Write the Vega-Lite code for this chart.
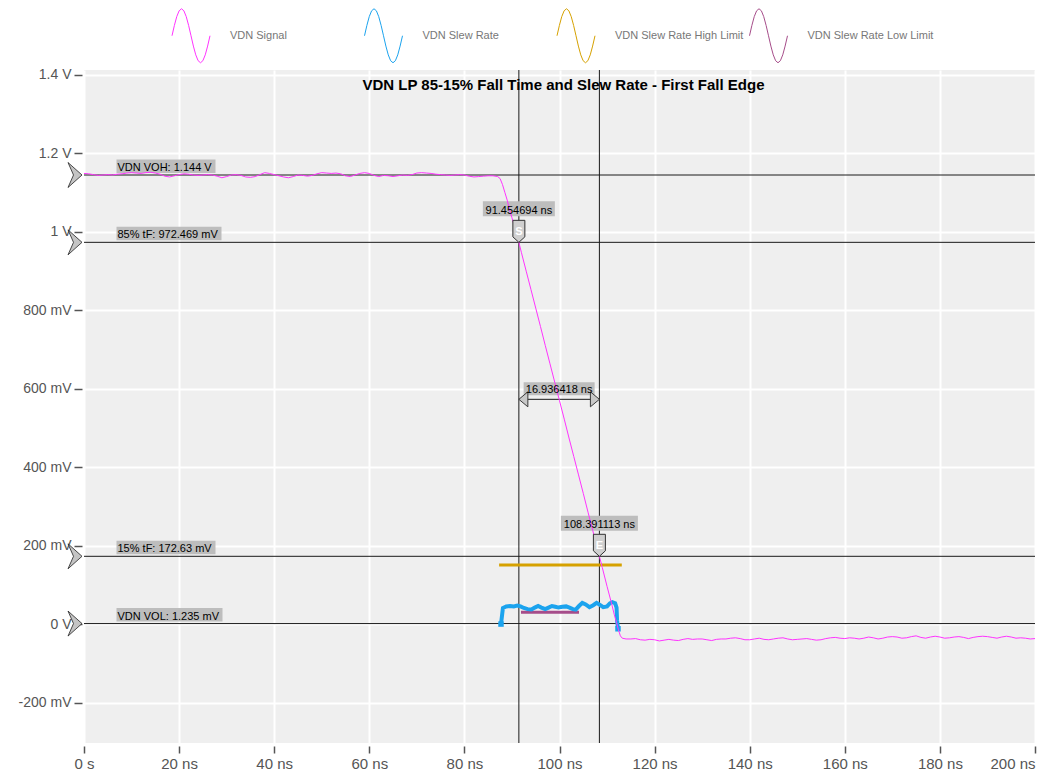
{
  "$schema": "https://vega.github.io/schema/vega-lite/v6.json",
  "width": 951,
  "height": 673,
  "autosize": {"type": "none"},
  "padding": {"left": 84, "top": 70, "right": 2, "bottom": 31},
  "background": "white",
  "config": {
    "font": "Liberation Sans",
    "view": {"fill": "#efefef", "stroke": null}
  },
  "title": {
    "text": "VDN LP 85-15% Fall Time and Slew Rate - First Fall Edge",
    "fontSize": 15,
    "fontWeight": "bold",
    "color": "#000000",
    "font": "Liberation Sans",
    "anchor": "middle",
    "baseline": "middle",
    "offset": -85,
    "dx": 4
  },
  "datasets": {
    "traces": [
      {"series": "VDN Signal", "time_ns": 0, "volts": 1.148},
      {"series": "VDN Signal", "time_ns": 1, "volts": 1.147},
      {"series": "VDN Signal", "time_ns": 2, "volts": 1.145},
      {"series": "VDN Signal", "time_ns": 3, "volts": 1.143},
      {"series": "VDN Signal", "time_ns": 4, "volts": 1.144},
      {"series": "VDN Signal", "time_ns": 5, "volts": 1.145},
      {"series": "VDN Signal", "time_ns": 6, "volts": 1.144},
      {"series": "VDN Signal", "time_ns": 7, "volts": 1.146},
      {"series": "VDN Signal", "time_ns": 8, "volts": 1.147},
      {"series": "VDN Signal", "time_ns": 9, "volts": 1.149},
      {"series": "VDN Signal", "time_ns": 10, "volts": 1.15},
      {"series": "VDN Signal", "time_ns": 11, "volts": 1.149},
      {"series": "VDN Signal", "time_ns": 12, "volts": 1.148},
      {"series": "VDN Signal", "time_ns": 13, "volts": 1.15},
      {"series": "VDN Signal", "time_ns": 14, "volts": 1.151},
      {"series": "VDN Signal", "time_ns": 15, "volts": 1.149},
      {"series": "VDN Signal", "time_ns": 16, "volts": 1.146},
      {"series": "VDN Signal", "time_ns": 17, "volts": 1.141},
      {"series": "VDN Signal", "time_ns": 18, "volts": 1.139},
      {"series": "VDN Signal", "time_ns": 19, "volts": 1.142},
      {"series": "VDN Signal", "time_ns": 20, "volts": 1.145},
      {"series": "VDN Signal", "time_ns": 21, "volts": 1.147},
      {"series": "VDN Signal", "time_ns": 22, "volts": 1.146},
      {"series": "VDN Signal", "time_ns": 23, "volts": 1.144},
      {"series": "VDN Signal", "time_ns": 24, "volts": 1.143},
      {"series": "VDN Signal", "time_ns": 25, "volts": 1.144},
      {"series": "VDN Signal", "time_ns": 26, "volts": 1.145},
      {"series": "VDN Signal", "time_ns": 27, "volts": 1.144},
      {"series": "VDN Signal", "time_ns": 28, "volts": 1.141},
      {"series": "VDN Signal", "time_ns": 29, "volts": 1.137},
      {"series": "VDN Signal", "time_ns": 30, "volts": 1.14},
      {"series": "VDN Signal", "time_ns": 31, "volts": 1.144},
      {"series": "VDN Signal", "time_ns": 32, "volts": 1.145},
      {"series": "VDN Signal", "time_ns": 33, "volts": 1.143},
      {"series": "VDN Signal", "time_ns": 34, "volts": 1.139},
      {"series": "VDN Signal", "time_ns": 35, "volts": 1.138},
      {"series": "VDN Signal", "time_ns": 36, "volts": 1.14},
      {"series": "VDN Signal", "time_ns": 37, "volts": 1.145},
      {"series": "VDN Signal", "time_ns": 38, "volts": 1.15},
      {"series": "VDN Signal", "time_ns": 39, "volts": 1.148},
      {"series": "VDN Signal", "time_ns": 40, "volts": 1.145},
      {"series": "VDN Signal", "time_ns": 41, "volts": 1.142},
      {"series": "VDN Signal", "time_ns": 42, "volts": 1.139},
      {"series": "VDN Signal", "time_ns": 43, "volts": 1.137},
      {"series": "VDN Signal", "time_ns": 44, "volts": 1.14},
      {"series": "VDN Signal", "time_ns": 45, "volts": 1.144},
      {"series": "VDN Signal", "time_ns": 46, "volts": 1.143},
      {"series": "VDN Signal", "time_ns": 47, "volts": 1.141},
      {"series": "VDN Signal", "time_ns": 48, "volts": 1.143},
      {"series": "VDN Signal", "time_ns": 49, "volts": 1.147},
      {"series": "VDN Signal", "time_ns": 50, "volts": 1.15},
      {"series": "VDN Signal", "time_ns": 51, "volts": 1.149},
      {"series": "VDN Signal", "time_ns": 52, "volts": 1.148},
      {"series": "VDN Signal", "time_ns": 53, "volts": 1.149},
      {"series": "VDN Signal", "time_ns": 54, "volts": 1.147},
      {"series": "VDN Signal", "time_ns": 55, "volts": 1.142},
      {"series": "VDN Signal", "time_ns": 56, "volts": 1.14},
      {"series": "VDN Signal", "time_ns": 57, "volts": 1.144},
      {"series": "VDN Signal", "time_ns": 58, "volts": 1.148},
      {"series": "VDN Signal", "time_ns": 59, "volts": 1.15},
      {"series": "VDN Signal", "time_ns": 60, "volts": 1.148},
      {"series": "VDN Signal", "time_ns": 61, "volts": 1.143},
      {"series": "VDN Signal", "time_ns": 62, "volts": 1.14},
      {"series": "VDN Signal", "time_ns": 63, "volts": 1.143},
      {"series": "VDN Signal", "time_ns": 64, "volts": 1.142},
      {"series": "VDN Signal", "time_ns": 65, "volts": 1.14},
      {"series": "VDN Signal", "time_ns": 66, "volts": 1.142},
      {"series": "VDN Signal", "time_ns": 67, "volts": 1.144},
      {"series": "VDN Signal", "time_ns": 68, "volts": 1.143},
      {"series": "VDN Signal", "time_ns": 69, "volts": 1.145},
      {"series": "VDN Signal", "time_ns": 70, "volts": 1.149},
      {"series": "VDN Signal", "time_ns": 71, "volts": 1.15},
      {"series": "VDN Signal", "time_ns": 72, "volts": 1.149},
      {"series": "VDN Signal", "time_ns": 73, "volts": 1.148},
      {"series": "VDN Signal", "time_ns": 74, "volts": 1.146},
      {"series": "VDN Signal", "time_ns": 75, "volts": 1.145},
      {"series": "VDN Signal", "time_ns": 76, "volts": 1.144},
      {"series": "VDN Signal", "time_ns": 77, "volts": 1.143},
      {"series": "VDN Signal", "time_ns": 78, "volts": 1.144},
      {"series": "VDN Signal", "time_ns": 79, "volts": 1.145},
      {"series": "VDN Signal", "time_ns": 80, "volts": 1.144},
      {"series": "VDN Signal", "time_ns": 81, "volts": 1.141},
      {"series": "VDN Signal", "time_ns": 82, "volts": 1.139},
      {"series": "VDN Signal", "time_ns": 83, "volts": 1.14},
      {"series": "VDN Signal", "time_ns": 84, "volts": 1.141},
      {"series": "VDN Signal", "time_ns": 85, "volts": 1.142},
      {"series": "VDN Signal", "time_ns": 86, "volts": 1.142},
      {"series": "VDN Signal", "time_ns": 87, "volts": 1.14},
      {"series": "VDN Signal", "time_ns": 87.5, "volts": 1.135},
      {"series": "VDN Signal", "time_ns": 88, "volts": 1.12},
      {"series": "VDN Signal", "time_ns": 88.5, "volts": 1.1},
      {"series": "VDN Signal", "time_ns": 89, "volts": 1.08},
      {"series": "VDN Signal", "time_ns": 89.5, "volts": 1.055},
      {"series": "VDN Signal", "time_ns": 90, "volts": 1.035},
      {"series": "VDN Signal", "time_ns": 90.5, "volts": 1.014},
      {"series": "VDN Signal", "time_ns": 91, "volts": 0.994},
      {"series": "VDN Signal", "time_ns": 91.454694, "volts": 0.972469},
      {"series": "VDN Signal", "time_ns": 92, "volts": 0.946},
      {"series": "VDN Signal", "time_ns": 93, "volts": 0.899},
      {"series": "VDN Signal", "time_ns": 94, "volts": 0.852},
      {"series": "VDN Signal", "time_ns": 95, "volts": 0.805},
      {"series": "VDN Signal", "time_ns": 96, "volts": 0.758},
      {"series": "VDN Signal", "time_ns": 97, "volts": 0.71},
      {"series": "VDN Signal", "time_ns": 98, "volts": 0.663},
      {"series": "VDN Signal", "time_ns": 99, "volts": 0.616},
      {"series": "VDN Signal", "time_ns": 100, "volts": 0.569},
      {"series": "VDN Signal", "time_ns": 101, "volts": 0.522},
      {"series": "VDN Signal", "time_ns": 102, "volts": 0.474},
      {"series": "VDN Signal", "time_ns": 103, "volts": 0.427},
      {"series": "VDN Signal", "time_ns": 104, "volts": 0.38},
      {"series": "VDN Signal", "time_ns": 105, "volts": 0.333},
      {"series": "VDN Signal", "time_ns": 106, "volts": 0.285},
      {"series": "VDN Signal", "time_ns": 107, "volts": 0.238},
      {"series": "VDN Signal", "time_ns": 108, "volts": 0.191},
      {"series": "VDN Signal", "time_ns": 108.391113, "volts": 0.17263},
      {"series": "VDN Signal", "time_ns": 109, "volts": 0.144},
      {"series": "VDN Signal", "time_ns": 110, "volts": 0.096},
      {"series": "VDN Signal", "time_ns": 111, "volts": 0.05},
      {"series": "VDN Signal", "time_ns": 111.5, "volts": 0.025},
      {"series": "VDN Signal", "time_ns": 112, "volts": 0.004},
      {"series": "VDN Signal", "time_ns": 112.4, "volts": -0.015},
      {"series": "VDN Signal", "time_ns": 112.8, "volts": -0.03},
      {"series": "VDN Signal", "time_ns": 113.2, "volts": -0.036},
      {"series": "VDN Signal", "time_ns": 114, "volts": -0.038},
      {"series": "VDN Signal", "time_ns": 115, "volts": -0.038},
      {"series": "VDN Signal", "time_ns": 116, "volts": -0.037},
      {"series": "VDN Signal", "time_ns": 117, "volts": -0.04},
      {"series": "VDN Signal", "time_ns": 118, "volts": -0.041},
      {"series": "VDN Signal", "time_ns": 119, "volts": -0.039},
      {"series": "VDN Signal", "time_ns": 120, "volts": -0.04},
      {"series": "VDN Signal", "time_ns": 121, "volts": -0.043},
      {"series": "VDN Signal", "time_ns": 122, "volts": -0.041},
      {"series": "VDN Signal", "time_ns": 123, "volts": -0.039},
      {"series": "VDN Signal", "time_ns": 124, "volts": -0.041},
      {"series": "VDN Signal", "time_ns": 125, "volts": -0.042},
      {"series": "VDN Signal", "time_ns": 126, "volts": -0.039},
      {"series": "VDN Signal", "time_ns": 127, "volts": -0.037},
      {"series": "VDN Signal", "time_ns": 128, "volts": -0.039},
      {"series": "VDN Signal", "time_ns": 129, "volts": -0.038},
      {"series": "VDN Signal", "time_ns": 130, "volts": -0.038},
      {"series": "VDN Signal", "time_ns": 131, "volts": -0.04},
      {"series": "VDN Signal", "time_ns": 132, "volts": -0.042},
      {"series": "VDN Signal", "time_ns": 133, "volts": -0.039},
      {"series": "VDN Signal", "time_ns": 134, "volts": -0.038},
      {"series": "VDN Signal", "time_ns": 135, "volts": -0.038},
      {"series": "VDN Signal", "time_ns": 136, "volts": -0.036},
      {"series": "VDN Signal", "time_ns": 137, "volts": -0.035},
      {"series": "VDN Signal", "time_ns": 138, "volts": -0.037},
      {"series": "VDN Signal", "time_ns": 139, "volts": -0.04},
      {"series": "VDN Signal", "time_ns": 140, "volts": -0.04},
      {"series": "VDN Signal", "time_ns": 141, "volts": -0.038},
      {"series": "VDN Signal", "time_ns": 142, "volts": -0.036},
      {"series": "VDN Signal", "time_ns": 143, "volts": -0.039},
      {"series": "VDN Signal", "time_ns": 144, "volts": -0.04},
      {"series": "VDN Signal", "time_ns": 145, "volts": -0.038},
      {"series": "VDN Signal", "time_ns": 146, "volts": -0.036},
      {"series": "VDN Signal", "time_ns": 147, "volts": -0.035},
      {"series": "VDN Signal", "time_ns": 148, "volts": -0.038},
      {"series": "VDN Signal", "time_ns": 149, "volts": -0.04},
      {"series": "VDN Signal", "time_ns": 150, "volts": -0.039},
      {"series": "VDN Signal", "time_ns": 151, "volts": -0.038},
      {"series": "VDN Signal", "time_ns": 152, "volts": -0.037},
      {"series": "VDN Signal", "time_ns": 153, "volts": -0.039},
      {"series": "VDN Signal", "time_ns": 154, "volts": -0.041},
      {"series": "VDN Signal", "time_ns": 155, "volts": -0.04},
      {"series": "VDN Signal", "time_ns": 156, "volts": -0.037},
      {"series": "VDN Signal", "time_ns": 157, "volts": -0.035},
      {"series": "VDN Signal", "time_ns": 158, "volts": -0.034},
      {"series": "VDN Signal", "time_ns": 159, "volts": -0.036},
      {"series": "VDN Signal", "time_ns": 160, "volts": -0.037},
      {"series": "VDN Signal", "time_ns": 161, "volts": -0.035},
      {"series": "VDN Signal", "time_ns": 162, "volts": -0.036},
      {"series": "VDN Signal", "time_ns": 163, "volts": -0.038},
      {"series": "VDN Signal", "time_ns": 164, "volts": -0.036},
      {"series": "VDN Signal", "time_ns": 165, "volts": -0.033},
      {"series": "VDN Signal", "time_ns": 166, "volts": -0.035},
      {"series": "VDN Signal", "time_ns": 167, "volts": -0.038},
      {"series": "VDN Signal", "time_ns": 168, "volts": -0.036},
      {"series": "VDN Signal", "time_ns": 169, "volts": -0.033},
      {"series": "VDN Signal", "time_ns": 170, "volts": -0.032},
      {"series": "VDN Signal", "time_ns": 171, "volts": -0.033},
      {"series": "VDN Signal", "time_ns": 172, "volts": -0.036},
      {"series": "VDN Signal", "time_ns": 173, "volts": -0.035},
      {"series": "VDN Signal", "time_ns": 174, "volts": -0.032},
      {"series": "VDN Signal", "time_ns": 175, "volts": -0.03},
      {"series": "VDN Signal", "time_ns": 176, "volts": -0.034},
      {"series": "VDN Signal", "time_ns": 177, "volts": -0.036},
      {"series": "VDN Signal", "time_ns": 178, "volts": -0.033},
      {"series": "VDN Signal", "time_ns": 179, "volts": -0.031},
      {"series": "VDN Signal", "time_ns": 180, "volts": -0.033},
      {"series": "VDN Signal", "time_ns": 181, "volts": -0.036},
      {"series": "VDN Signal", "time_ns": 182, "volts": -0.035},
      {"series": "VDN Signal", "time_ns": 183, "volts": -0.033},
      {"series": "VDN Signal", "time_ns": 184, "volts": -0.032},
      {"series": "VDN Signal", "time_ns": 185, "volts": -0.034},
      {"series": "VDN Signal", "time_ns": 186, "volts": -0.037},
      {"series": "VDN Signal", "time_ns": 187, "volts": -0.034},
      {"series": "VDN Signal", "time_ns": 188, "volts": -0.032},
      {"series": "VDN Signal", "time_ns": 189, "volts": -0.031},
      {"series": "VDN Signal", "time_ns": 190, "volts": -0.032},
      {"series": "VDN Signal", "time_ns": 191, "volts": -0.034},
      {"series": "VDN Signal", "time_ns": 192, "volts": -0.036},
      {"series": "VDN Signal", "time_ns": 193, "volts": -0.033},
      {"series": "VDN Signal", "time_ns": 194, "volts": -0.031},
      {"series": "VDN Signal", "time_ns": 195, "volts": -0.033},
      {"series": "VDN Signal", "time_ns": 196, "volts": -0.036},
      {"series": "VDN Signal", "time_ns": 197, "volts": -0.035},
      {"series": "VDN Signal", "time_ns": 198, "volts": -0.036},
      {"series": "VDN Signal", "time_ns": 199, "volts": -0.038},
      {"series": "VDN Signal", "time_ns": 200, "volts": -0.037},
      {"series": "VDN Slew Rate", "time_ns": 87.7, "volts": 0.0},
      {"series": "VDN Slew Rate", "time_ns": 88.1, "volts": 0.041},
      {"series": "VDN Slew Rate", "time_ns": 88.8, "volts": 0.045},
      {"series": "VDN Slew Rate", "time_ns": 89.6, "volts": 0.046},
      {"series": "VDN Slew Rate", "time_ns": 90.4, "volts": 0.045},
      {"series": "VDN Slew Rate", "time_ns": 91.1, "volts": 0.047},
      {"series": "VDN Slew Rate", "time_ns": 91.8, "volts": 0.045},
      {"series": "VDN Slew Rate", "time_ns": 92.5, "volts": 0.041},
      {"series": "VDN Slew Rate", "time_ns": 93.3, "volts": 0.038},
      {"series": "VDN Slew Rate", "time_ns": 94.1, "volts": 0.037},
      {"series": "VDN Slew Rate", "time_ns": 94.8, "volts": 0.042},
      {"series": "VDN Slew Rate", "time_ns": 95.5, "volts": 0.046},
      {"series": "VDN Slew Rate", "time_ns": 96.2, "volts": 0.042},
      {"series": "VDN Slew Rate", "time_ns": 97.0, "volts": 0.038},
      {"series": "VDN Slew Rate", "time_ns": 97.7, "volts": 0.042},
      {"series": "VDN Slew Rate", "time_ns": 98.4, "volts": 0.046},
      {"series": "VDN Slew Rate", "time_ns": 99.1, "volts": 0.044},
      {"series": "VDN Slew Rate", "time_ns": 99.8, "volts": 0.042},
      {"series": "VDN Slew Rate", "time_ns": 100.6, "volts": 0.044},
      {"series": "VDN Slew Rate", "time_ns": 101.4, "volts": 0.045},
      {"series": "VDN Slew Rate", "time_ns": 102.1, "volts": 0.042},
      {"series": "VDN Slew Rate", "time_ns": 102.8, "volts": 0.038},
      {"series": "VDN Slew Rate", "time_ns": 103.4, "volts": 0.037},
      {"series": "VDN Slew Rate", "time_ns": 104.1, "volts": 0.046},
      {"series": "VDN Slew Rate", "time_ns": 104.8, "volts": 0.054},
      {"series": "VDN Slew Rate", "time_ns": 105.5, "volts": 0.05},
      {"series": "VDN Slew Rate", "time_ns": 106.3, "volts": 0.043},
      {"series": "VDN Slew Rate", "time_ns": 107.1, "volts": 0.048},
      {"series": "VDN Slew Rate", "time_ns": 107.8, "volts": 0.054},
      {"series": "VDN Slew Rate", "time_ns": 108.5, "volts": 0.049},
      {"series": "VDN Slew Rate", "time_ns": 109.2, "volts": 0.043},
      {"series": "VDN Slew Rate", "time_ns": 110.0, "volts": 0.045},
      {"series": "VDN Slew Rate", "time_ns": 110.6, "volts": 0.053},
      {"series": "VDN Slew Rate", "time_ns": 111.1, "volts": 0.056},
      {"series": "VDN Slew Rate", "time_ns": 111.7, "volts": 0.053},
      {"series": "VDN Slew Rate", "time_ns": 112.0, "volts": 0.042},
      {"series": "VDN Slew Rate", "time_ns": 112.1, "volts": 0.01},
      {"series": "VDN Slew Rate", "time_ns": 112.3, "volts": -0.012},
      {"series": "VDN Slew Rate High Limit", "time_ns": 87.3, "volts": 0.1505},
      {"series": "VDN Slew Rate High Limit", "time_ns": 113.1, "volts": 0.1505},
      {"series": "VDN Slew Rate Low Limit", "time_ns": 91.9, "volts": 0.03},
      {"series": "VDN Slew Rate Low Limit", "time_ns": 104.1, "volts": 0.03}
    ],
    "levels": [
      {"label": "VDN VOH: 1.144 V", "level": 1.144},
      {"label": "85% tF: 972.469 mV", "level": 0.972469},
      {"label": "15% tF: 172.63 mV", "level": 0.17263},
      {"label": "VDN VOL: 1.235 mV", "level": 0.001235}
    ],
    "cursors": [
      {"label": "91.454694 ns", "time_ns": 91.454694, "level": 0.972469, "marker": "S"},
      {"label": "108.391113 ns", "time_ns": 108.391113, "level": 0.17263, "marker": "E"}
    ],
    "span": [
      {"label": "16.936418 ns", "start_ns": 91.454694, "end_ns": 108.391113, "level": 0.57255}
    ]
  },
  "layer": [
    {
      "data": {"name": "levels"},
      "mark": {"type": "rule", "color": "#1a1a1a", "strokeWidth": 1},
      "encoding": {"y": {"field": "level", "type": "quantitative"}}
    },
    {
      "data": {"name": "cursors"},
      "mark": {"type": "rule", "color": "#1a1a1a", "strokeWidth": 1},
      "encoding": {"x": {"field": "time_ns", "type": "quantitative"}}
    },
    {
      "data": {"name": "levels"},
      "mark": {"type": "point", "filled": true, "opacity": 1, "color": "#bdbdbd", "size": 400},
      "encoding": {
        "x": {"datum": 0, "type": "quantitative"},
        "y": {"field": "level", "type": "quantitative"},
        "shape": {
          "field": "label", "type": "nominal", "legend": null,
          "scale": {
            "domain": ["VDN VOH: 1.144 V", "85% tF: 972.469 mV", "15% tF: 172.63 mV", "VDN VOL: 1.235 mV", "91.454694 ns", "108.391113 ns", "16.936418 ns"],
            "range": [
              "M 3.25 -1.55 L 13.15 -1.55 L 13.15 -0.2 L 3.25 -0.2 Z",
              "M 3.25 -1.55 L 13.75 -1.55 L 13.75 -0.2 L 3.25 -0.2 Z",
              "M 3.25 -1.55 L 13.15 -1.55 L 13.15 -0.2 L 3.25 -0.2 Z",
              "M 3.25 -1.55 L 13.85 -1.55 L 13.85 -0.2 L 3.25 -0.2 Z",
              "M -3.6 -4.1 L 3.6 -4.1 L 3.6 -2.6 L -3.6 -2.6 Z",
              "M -3.85 -4.05 L 3.85 -4.05 L 3.85 -2.55 L -3.85 -2.55 Z",
              "M -3.55 -1.7 L 3.55 -1.7 L 3.55 -0.4 L -3.55 -0.4 Z"
            ]
          }
        }
      }
    },
    {
      "data": {"name": "cursors"},
      "mark": {"type": "point", "filled": true, "opacity": 1, "color": "#bdbdbd", "size": 400},
      "encoding": {
        "x": {"field": "time_ns", "type": "quantitative"},
        "y": {"field": "level", "type": "quantitative"},
        "shape": {
          "field": "label", "type": "nominal", "legend": null,
          "scale": {
            "domain": ["VDN VOH: 1.144 V", "85% tF: 972.469 mV", "15% tF: 172.63 mV", "VDN VOL: 1.235 mV", "91.454694 ns", "108.391113 ns", "16.936418 ns"],
            "range": [
              "M 3.25 -1.55 L 13.15 -1.55 L 13.15 -0.2 L 3.25 -0.2 Z",
              "M 3.25 -1.55 L 13.75 -1.55 L 13.75 -0.2 L 3.25 -0.2 Z",
              "M 3.25 -1.55 L 13.15 -1.55 L 13.15 -0.2 L 3.25 -0.2 Z",
              "M 3.25 -1.55 L 13.85 -1.55 L 13.85 -0.2 L 3.25 -0.2 Z",
              "M -3.6 -4.1 L 3.6 -4.1 L 3.6 -2.6 L -3.6 -2.6 Z",
              "M -3.85 -4.05 L 3.85 -4.05 L 3.85 -2.55 L -3.85 -2.55 Z",
              "M -3.55 -1.7 L 3.55 -1.7 L 3.55 -0.4 L -3.55 -0.4 Z"
            ]
          }
        }
      }
    },
    {
      "data": {"name": "span"},
      "transform": [{"calculate": "(datum.start_ns + datum.end_ns) / 2", "as": "mid_ns"}],
      "mark": {"type": "point", "filled": true, "opacity": 1, "color": "#bdbdbd", "size": 400},
      "encoding": {
        "x": {"field": "mid_ns", "type": "quantitative"},
        "y": {"field": "level", "type": "quantitative"},
        "shape": {
          "field": "label", "type": "nominal", "legend": null,
          "scale": {
            "domain": ["VDN VOH: 1.144 V", "85% tF: 972.469 mV", "15% tF: 172.63 mV", "VDN VOL: 1.235 mV", "91.454694 ns", "108.391113 ns", "16.936418 ns"],
            "range": [
              "M 3.25 -1.55 L 13.15 -1.55 L 13.15 -0.2 L 3.25 -0.2 Z",
              "M 3.25 -1.55 L 13.75 -1.55 L 13.75 -0.2 L 3.25 -0.2 Z",
              "M 3.25 -1.55 L 13.15 -1.55 L 13.15 -0.2 L 3.25 -0.2 Z",
              "M 3.25 -1.55 L 13.85 -1.55 L 13.85 -0.2 L 3.25 -0.2 Z",
              "M -3.6 -4.1 L 3.6 -4.1 L 3.6 -2.6 L -3.6 -2.6 Z",
              "M -3.85 -4.05 L 3.85 -4.05 L 3.85 -2.55 L -3.85 -2.55 Z",
              "M -3.55 -1.7 L 3.55 -1.7 L 3.55 -0.4 L -3.55 -0.4 Z"
            ]
          }
        }
      }
    },
    {
      "data": {"name": "span"},
      "mark": {"type": "rule", "color": "#1a1a1a", "strokeWidth": 1},
      "encoding": {
        "x": {"field": "start_ns", "type": "quantitative"},
        "x2": {"field": "end_ns"},
        "y": {"field": "level", "type": "quantitative"}
      }
    },
    {
      "data": {"name": "span"},
      "mark": {"type": "point", "filled": true, "opacity": 1, "color": "#c8c8c8", "stroke": "#3a3a3a", "strokeWidth": 1, "size": 400, "shape": "M 0 0 L 0.9 -0.75 L 0.9 0.75 Z"},
      "encoding": {
        "x": {"field": "start_ns", "type": "quantitative"},
        "y": {"field": "level", "type": "quantitative"}
      }
    },
    {
      "data": {"name": "span"},
      "mark": {"type": "point", "filled": true, "opacity": 1, "color": "#c8c8c8", "stroke": "#3a3a3a", "strokeWidth": 1, "size": 400, "shape": "M 0 0 L -0.9 -0.75 L -0.9 0.75 Z"},
      "encoding": {
        "x": {"field": "end_ns", "type": "quantitative"},
        "y": {"field": "level", "type": "quantitative"}
      }
    },
    {
      "data": {"name": "traces"},
      "transform": [{"filter": "indexof(datum.series, 'Limit') >= 0"}],
      "mark": {"type": "line", "strokeWidth": 3},
      "encoding": {
        "x": {"field": "time_ns", "type": "quantitative"},
        "y": {"field": "volts", "type": "quantitative"},
        "color": {"field": "series", "type": "nominal"}
      }
    },
    {
      "data": {"name": "traces"},
      "transform": [{"filter": "datum.series == 'VDN Slew Rate'"}],
      "mark": {"type": "line", "strokeWidth": 4},
      "encoding": {
        "x": {"field": "time_ns", "type": "quantitative"},
        "y": {"field": "volts", "type": "quantitative"},
        "color": {"field": "series", "type": "nominal"}
      }
    },
    {
      "data": {"name": "traces"},
      "transform": [{"filter": "datum.series == 'VDN Slew Rate' && (datum.time_ns == 87.7 || datum.time_ns == 112.3)"}],
      "mark": {"type": "point", "shape": "square", "filled": true, "opacity": 1, "color": "#1ba3ee", "size": 30},
      "encoding": {
        "x": {"field": "time_ns", "type": "quantitative"},
        "y": {"field": "volts", "type": "quantitative"}
      }
    },
    {
      "data": {"name": "traces"},
      "transform": [{"filter": "datum.series == 'VDN Signal'"}],
      "mark": {"type": "line", "strokeWidth": 1},
      "encoding": {
        "x": {
          "field": "time_ns", "type": "quantitative",
          "scale": {"domain": [0, 200], "nice": false, "zero": false},
          "axis": {
            "title": null,
            "values": [0, 20, 40, 60, 80, 100, 120, 140, 160, 180, 200],
            "labelExpr": "datum.value == 0 ? '0 s' : datum.value + ' ns'",
            "labelAlign": {"expr": "datum.value == 200 ? 'right' : 'center'"},
            "labelFlush": false,
            "labelOverlap": false,
            "labelBound": false,
            "domain": false,
            "grid": true, "gridColor": "#ffffff", "gridWidth": 2, "gridOpacity": 1,
            "ticks": true, "tickColor": "#555555", "tickSize": 7, "tickWidth": 1.5,
            "offset": 3,
            "labelFontSize": 15, "labelColor": "#555555", "labelPadding": 3
          }
        },
        "y": {
          "field": "volts", "type": "quantitative",
          "scale": {"domain": [-0.303, 1.4115], "nice": false, "zero": false},
          "axis": {
            "title": null,
            "values": [-0.2, 0, 0.2, 0.4, 0.6, 0.8, 1, 1.2, 1.4],
            "labelExpr": "datum.value == 0 ? '0 V' : (abs(datum.value) >= 1 ? datum.value + ' V' : round(datum.value * 1000) + ' mV')",
            "labelOverlap": false,
            "labelBound": false,
            "labelFlush": false,
            "domain": false,
            "grid": true, "gridColor": "#ffffff", "gridWidth": 2, "gridOpacity": 1,
            "ticks": true, "tickColor": "#555555", "tickSize": 8, "tickWidth": 1.5,
            "offset": 2,
            "labelFontSize": 14, "labelColor": "#555555", "labelPadding": 3
          }
        },
        "color": {
          "field": "series", "type": "nominal",
          "scale": {
            "domain": ["VDN Signal", "VDN Slew Rate", "VDN Slew Rate High Limit", "VDN Slew Rate Low Limit"],
            "range": ["#ff33ff", "#1ba3ee", "#d6a100", "#a64d8a"]
          },
          "legend": {
            "title": null,
            "orient": "none",
            "legendX": 86.5,
            "legendY": -55,
            "direction": "horizontal",
            "columns": 4,
            "gridAlign": "all",
            "columnPadding": 3.5,
            "padding": 0,
            "symbolType": "M -0.95 0 L -0.831 -0.517 L -0.713 -0.955 L -0.594 -1.247 L -0.475 -1.35 L -0.356 -1.247 L -0.238 -0.955 L -0.119 -0.517 L 0 0 L 0.119 0.517 L 0.238 0.955 L 0.356 1.247 L 0.475 1.35 L 0.594 1.247 L 0.713 0.955 L 0.831 0.517 L 0.95 0",
            "symbolSize": 1600,
            "symbolStrokeWidth": 1,
            "symbolFillColor": "transparent",
            "labelFont": "Liberation Sans",
            "labelFontSize": 11,
            "labelColor": "#777777",
            "labelOffset": 18.5
          }
        }
      }
    },
    {
      "data": {"name": "levels"},
      "mark": {"type": "text", "align": "left", "baseline": "alphabetic", "dx": 33.5, "dy": -4, "fontSize": 11, "color": "#000000"},
      "encoding": {
        "x": {"datum": 0, "type": "quantitative"},
        "y": {"field": "level", "type": "quantitative"},
        "text": {"field": "label"}
      }
    },
    {
      "data": {"name": "levels"},
      "mark": {"type": "point", "filled": true, "opacity": 1, "color": "#c4c4c4", "stroke": "#222222", "strokeWidth": 0.8, "size": 400, "shape": "M -0.2 0 L -1.6 -1.25 L -1.05 0 L -1.6 1.25 Z"},
      "encoding": {
        "x": {"datum": 0, "type": "quantitative"},
        "y": {"field": "level", "type": "quantitative"}
      }
    },
    {
      "data": {"name": "cursors"},
      "mark": {"type": "text", "align": "center", "baseline": "alphabetic", "dy": -28.5, "fontSize": 11, "color": "#000000"},
      "encoding": {
        "x": {"field": "time_ns", "type": "quantitative"},
        "y": {"field": "level", "type": "quantitative"},
        "text": {"field": "label"}
      }
    },
    {
      "data": {"name": "cursors"},
      "mark": {"type": "point", "filled": true, "opacity": 1, "color": "#cfcfcf", "stroke": "#333333", "strokeWidth": 1, "size": 400, "shape": "M -0.6 -2.2 L 0.6 -2.2 L 0.6 -0.55 L 0 0 L -0.6 -0.55 Z"},
      "encoding": {
        "x": {"field": "time_ns", "type": "quantitative"},
        "y": {"field": "level", "type": "quantitative"}
      }
    },
    {
      "data": {"name": "cursors"},
      "mark": {"type": "text", "align": "center", "baseline": "alphabetic", "dy": -7, "fontSize": 11, "fontWeight": "bold", "color": "#ffffff"},
      "encoding": {
        "x": {"field": "time_ns", "type": "quantitative"},
        "y": {"field": "level", "type": "quantitative"},
        "text": {"field": "marker"}
      }
    },
    {
      "data": {"name": "span"},
      "transform": [{"calculate": "(datum.start_ns + datum.end_ns) / 2", "as": "mid_ns"}],
      "mark": {"type": "text", "align": "center", "baseline": "alphabetic", "dy": -6, "fontSize": 11, "color": "#000000"},
      "encoding": {
        "x": {"field": "mid_ns", "type": "quantitative"},
        "y": {"field": "level", "type": "quantitative"},
        "text": {"field": "label"}
      }
    }
  ]
}
